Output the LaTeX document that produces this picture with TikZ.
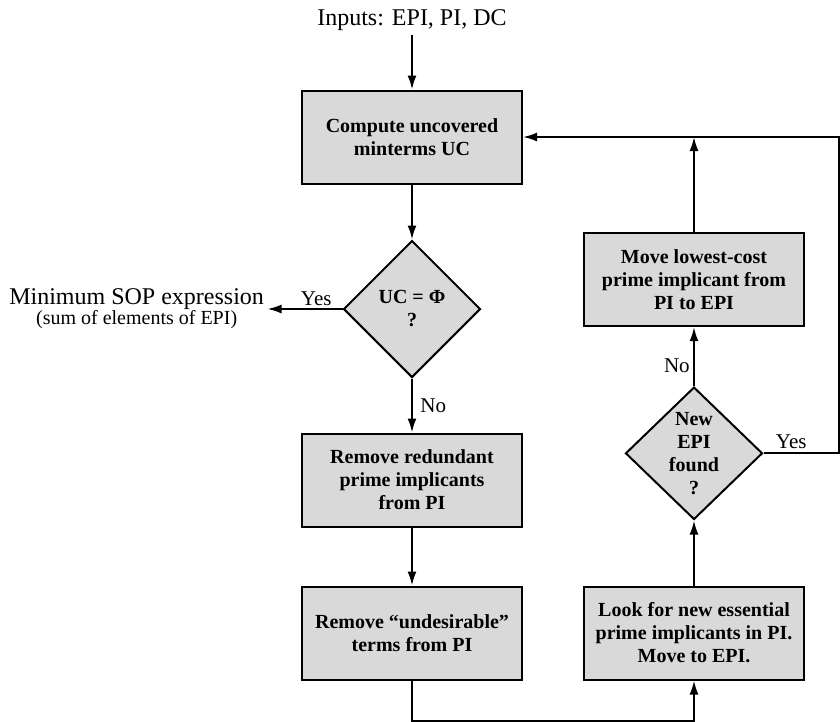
\documentclass[tikz,border=0pt]{standalone}
\usepackage{fontspec}
\setmainfont{Liberation Serif}
\usepackage{tikz}
\usetikzlibrary{positioning, shapes.geometric, arrows.meta}
\definecolor{boxGrey}{HTML}{D9D9D9}

\begin{document}
\begin{tikzpicture}[x=1pt, y=1pt,
  procbox/.style={draw, fill=boxGrey, line width=2pt, minimum width=220pt,
    minimum height=93pt, align=center, font=\fontsize{20}{23}\selectfont\bfseries},
  decision/.style={diamond, draw, fill=boxGrey, line width=2pt, inner sep=0pt,
    minimum width=137pt, minimum height=137pt, align=center,
    font=\fontsize{20}{23}\selectfont\bfseries},
  flow/.style={-{Latex[length=14pt, width=9pt]}, line width=2pt},
  lbl/.style={font=\fontsize{21}{24}\selectfont}]
  \useasboundingbox (0,0) rectangle (840,-721);

  \node[procbox] (comp) at (412,-137) {Compute uncovered\\minterms UC};
  \node[above=55pt of comp, font=\fontsize{24}{28}\selectfont] (inp) {Inputs: EPI, PI, DC};
  \node[decision, below=55pt of comp] (uc) {UC = Φ\\?};
  \node[left=75pt of uc, align=center] (sop)
    {{\fontsize{24}{26}\selectfont Minimum SOP expression}\\
     {\fontsize{20}{22}\selectfont (sum of elements of EPI)}};
  \node[procbox, below=54pt of uc] (red) {Remove redundant\\prime implicants\\from PI};
  \node[procbox, below=58pt of red] (und) {Remove ``undesirable''\\terms from PI};

  \node[procbox, right=60pt of und] (look) {Look for new essential\\prime implicants in PI.\\Move to EPI.};
  \node[decision, minimum height=125pt, above=65pt of look] (new) {New\\EPI\\found\\?};
  \node[procbox, above=59pt of new] (move) {Move lowest-cost\\prime implicant from\\PI to EPI};

  \draw[flow] (inp) -- (comp);
  \draw[flow] (comp) -- (uc);
  \draw[flow] (uc.west) -- node[lbl, above, inner sep=2pt, pos=0.35] {Yes} (sop);
  \draw[flow] (uc) -- node[lbl, right=4pt] {No} (red);
  \draw[flow] (red) -- (und);
  \draw[flow] (und.south) -- ++(0,-40) -| (look.south);
  \draw[flow] (look) -- (new);
  \draw[flow] (new) -- node[lbl, left, pos=0.35] {No} (move);
  \draw[flow] (new.east) -- node[lbl, above, pos=0.37] {Yes} ++(75,0) |- (comp.east);
  \draw[flow] (move.north) -- (move.north |- comp.east);
\end{tikzpicture}
\end{document}
